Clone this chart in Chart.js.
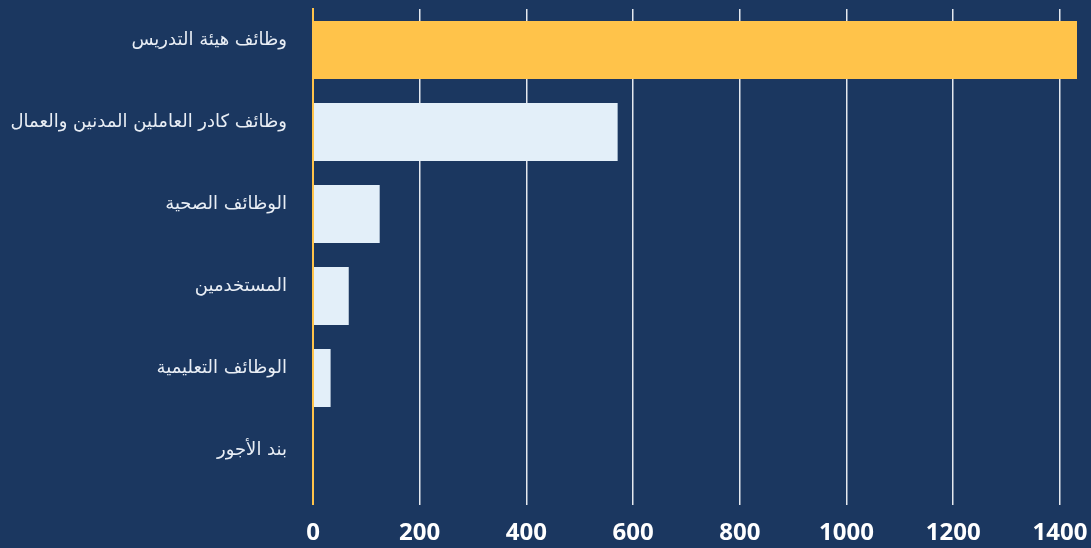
<!DOCTYPE html>
<html lang="ar">
<head>
<meta charset="utf-8">
<script src="https://cdn.jsdelivr.net/npm/chart.js@4"></script>
<style>
  html, body { margin: 0; padding: 0; background: #1b3760; }
  .ChartWrap { width: 1091px; height: 548px; position: relative; }
</style>
</head>
<body>
<div class="ChartWrap"><canvas id="jobsChart"></canvas></div>
<script>
const categories = [
  'وظائف هيئة التدريس',
  'وظائف كادر العاملين المدنين والعمال',
  'الوظائف الصحية',
  'المستخدمين',
  'الوظائف التعليمية',
  'بند الأجور'
]
const jobCounts = [1432, 571, 125, 67, 33, 0]
const xTicks = [0, 200, 400, 600, 800, 1000, 1200, 1400]

const yellow = '#FFC34A'
const light = '#E3EFF9'

const getChartData = () => {
  return {
    labels: categories,
    datasets: [
      {
        data: jobCounts,
        backgroundColor: jobCounts.map((v, i) => i === 0 ? yellow : light),
        borderWidth: 0,
        barPercentage: 0.71,
        categoryPercentage: 1
      }
    ]
  }
}

const getChartOptions = () => {
  return {
    indexAxis: 'y',
    responsive: true,
    maintainAspectRatio: false,
    animation: false,
    layout: { autoPadding: false, padding: { top: 9, right: 14, left: 10, bottom: 0 } },
    plugins: {
      legend: { display: false },
      tooltip: { enabled: false }
    },
    scales: {
      x: {
        min: 0,
        max: Math.max(...jobCounts),
        afterBuildTicks: (axis) => {
          axis.ticks = xTicks.map(v => ({ value: v }))
        },
        afterFit: (axis) => {
          axis.height = 47
          axis.paddingLeft = 0
          axis.paddingRight = 0
        },
        border: { display: false },
        grid: {
          color: (ctx) => ctx.tick && ctx.tick.value === 0 ? yellow : '#e4e8ee',
          lineWidth: (ctx) => ctx.tick && ctx.tick.value === 0 ? 2 : 1.5,
          tickLength: 4
        },
        ticks: {
          color: '#ffffff',
          padding: 16,
          callback: (value) => String(value),
          font: { family: "'Open Sans', sans-serif", size: 24, weight: 'bold', lineHeight: 1 }
        }
      },
      y: {
        z: 1,
        afterFit: (axis) => {
          axis.width = 303
          axis.paddingTop = 0
          axis.paddingBottom = 0
        },
        border: { display: true, color: yellow, width: 2 },
        grid: { display: false },
        ticks: {
          color: '#e9eef5',
          padding: 18,
          labelOffset: -10,
          font: { family: "'DejaVu Sans', sans-serif", size: 18, lineHeight: 1 }
        }
      }
    }
  }
}

const element = document.getElementById('jobsChart')
new Chart(element, {
  type: 'bar',
  data: getChartData(),
  options: getChartOptions()
})
</script>
</body>
</html>
